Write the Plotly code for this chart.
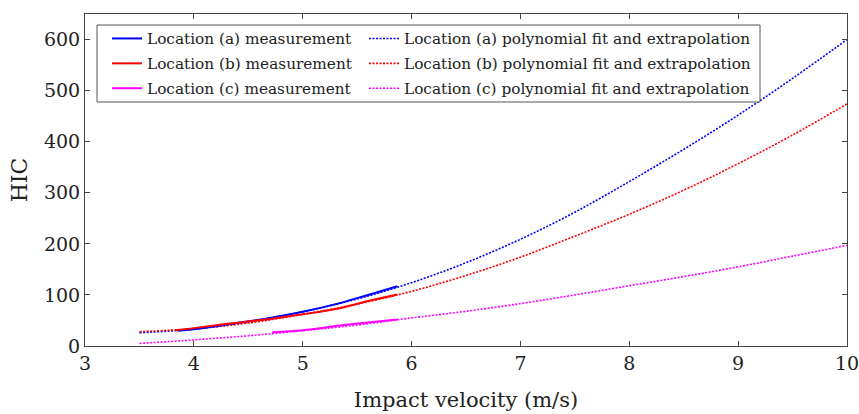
import plotly.graph_objects as go

# Polynomial fit / extrapolation curves
fit_v = [3.5, 4.0, 4.5, 5.0, 5.5, 6.0, 6.5, 7.0, 7.5, 8.0, 8.5, 9.0, 9.5, 10.0]
fit_a = [26, 33, 47, 67, 92, 124, 163, 209, 262, 322, 385, 452, 524, 600]
fit_b = [28, 34, 45, 62, 82, 107, 138, 174, 215, 258, 305, 357, 413, 474]
fit_c = [5, 12, 20, 30, 41, 55, 68, 83, 100, 118, 136, 155, 176, 197]

# Measurements
meas_a_v = [3.85, 4.0, 4.33, 4.7, 5.0, 5.34, 5.6, 5.87]
meas_a = [30, 33, 43, 55, 67, 84, 100, 117]
meas_b_v = [3.83, 4.0, 4.33, 4.7, 5.0, 5.34, 5.6, 5.87]
meas_b = [31, 35, 44, 53, 62, 74, 88, 101]
meas_c_v = [4.72, 5.0, 5.34, 5.6, 5.87]
meas_c = [27, 31, 40, 46, 52]

names_meas = ["Location (a) measurement", "Location (b) measurement", "Location (c) measurement"]
names_fit = ["Location (a) polynomial fit and extrapolation",
             "Location (b) polynomial fit and extrapolation",
             "Location (c) polynomial fit and extrapolation"]
colors = ["#0000ff", "#ff0000", "#ff00ff"]

x_ticks = [3, 4, 5, 6, 7, 8, 9, 10]
y_ticks = [0, 100, 200, 300, 400, 500, 600]

FONT = "DejaVu Serif"
fig = go.Figure()

for i, ys in enumerate([fit_a, fit_b, fit_c]):
    fig.add_trace(go.Scatter(x=fit_v, y=ys, mode="lines", name=names_fit[i],
                             line=dict(color=colors[i], width=1.6, dash="2px,1.5px", shape="spline"),
                             legend="legend2", legendgroup="f%d" % i))
for i, (xs, ys) in enumerate([(meas_a_v, meas_a), (meas_b_v, meas_b), (meas_c_v, meas_c)]):
    fig.add_trace(go.Scatter(x=xs, y=ys, mode="lines", name=names_meas[i],
                             line=dict(color=colors[i], width=2, shape="spline"),
                             legend="legend", legendgroup="m%d" % i))

L, R, T, B = 85, 12, 14, 68
W, H = 859, 414
pw, ph = W - L - R, H - T - B

def px(xp):
    return (xp - L) / pw

def py(yp):
    return 1 - (yp - T) / ph

fig.add_shape(type="rect", xref="paper", yref="paper",
              x0=px(97), x1=px(760), y0=py(102), y1=py(25),
              line=dict(color="#555555", width=1), fillcolor="white", layer="above")

leg_common = dict(bgcolor="rgba(0,0,0,0)", borderwidth=0, font=dict(family=FONT, size=15.3, color="#222"),
                  xanchor="left", yanchor="top", traceorder="grouped", tracegroupgap=2)
fig.update_layout(
    width=W, height=H,
    margin=dict(l=L, r=R, t=T, b=B, autoexpand=False),
    paper_bgcolor="white", plot_bgcolor="white",
    font=dict(family=FONT, color="#222"),
    showlegend=True,
    legend=dict(x=px(107), y=py(22), **leg_common),
    legend2=dict(x=px(364), y=py(22), **leg_common),
    xaxis=dict(range=[3, 10], tickvals=x_ticks, ticks="inside", ticklen=5, tickcolor="#444",
               showline=True, linecolor="#444", linewidth=1, mirror="ticks", showgrid=False,
               zeroline=False, automargin=False, ticklabeloverflow="allow",
               tickfont=dict(family=FONT, size=19, color="#222"),
               title=dict(text="Impact velocity (m/s)", font=dict(family=FONT, size=21, color="#222"), standoff=19)),
    yaxis=dict(range=[0, 650], tickvals=y_ticks, ticks="inside", ticklen=5, tickcolor="#444",
               showline=True, linecolor="#444", linewidth=1, mirror="ticks", showgrid=False,
               zeroline=False, automargin=False, ticklabeloverflow="allow",
               tickfont=dict(family=FONT, size=19, color="#222"),
               title=dict(text="HIC", font=dict(family=FONT, size=22, color="#222"), standoff=10)),
)

fig.write_html("out.html", config={"displayModeBar": False},
               post_script="document.body.style.margin='0';")
